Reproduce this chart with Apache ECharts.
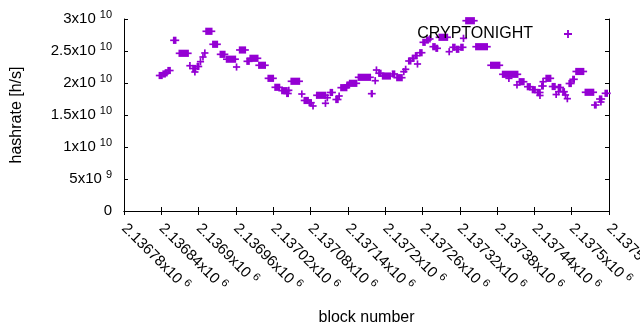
<!DOCTYPE html>
<html>
<head>
<meta charset="utf-8">
<script src="https://cdn.jsdelivr.net/npm/echarts@6/dist/echarts.min.js"></script>
<style>
  html, body { margin: 0; padding: 0; background: #fff; }
  #chart { width: 640px; height: 330px; }
</style>
</head>
<body>
<div id="chart"></div>
<script>
// runs of blocks that share one hashrate value (first block, last block, rate in h/s)
const runFirst = [
  2136837, 2136843, 2136847, 2136851, 2136860, 2136869, 2136886, 2136891, 2136894, 2136898,
  2136903, 2136907, 2136910, 2136912, 2136923, 2136935, 2136945, 2136961, 2136966, 2136978,
  2136983, 2136997, 2137012, 2137023, 2137034, 2137042, 2137045, 2137049, 2137066, 2137070,
  2137078, 2137084, 2137090, 2137104, 2137107, 2137112, 2137121, 2137126, 2137129, 2137139,
  2137143, 2137157, 2137178, 2137184, 2137186, 2137190, 2137196, 2137212, 2137219, 2137230,
  2137233, 2137238, 2137244, 2137249, 2137252, 2137256, 2137261, 2137267, 2137272, 2137277,
  2137282, 2137287, 2137303, 2137309, 2137315, 2137322, 2137326, 2137330, 2137346, 2137370,
  2137389, 2137399, 2137412, 2137416, 2137429, 2137437, 2137445, 2137449, 2137452, 2137454,
  2137459, 2137469, 2137475, 2137479, 2137479, 2137486, 2137490, 2137493, 2137496, 2137502,
  2137507, 2137522, 2137537, 2137545, 2137547, 2137554
];
const runLast = [
  2136841, 2136846, 2136849, 2136854, 2136863, 2136883, 2136886, 2136895, 2136894, 2136900,
  2136903, 2136907, 2136910, 2136921, 2136930, 2136942, 2136959, 2136961, 2136975, 2136981,
  2136995, 2137007, 2137020, 2137030, 2137042, 2137044, 2137045, 2137062, 2137066, 2137076,
  2137081, 2137084, 2137104, 2137104, 2137107, 2137115, 2137124, 2137126, 2137138, 2137141,
  2137154, 2137176, 2137179, 2137184, 2137186, 2137193, 2137208, 2137215, 2137227, 2137230,
  2137233, 2137241, 2137246, 2137251, 2137252, 2137259, 2137264, 2137269, 2137272, 2137280,
  2137284, 2137300, 2137303, 2137312, 2137318, 2137325, 2137326, 2137343, 2137364, 2137384,
  2137413, 2137399, 2137412, 2137423, 2137433, 2137441, 2137449, 2137449, 2137454, 2137454,
  2137466, 2137473, 2137475, 2137482, 2137479, 2137488, 2137490, 2137493, 2137499, 2137504,
  2137519, 2137535, 2137539, 2137548, 2137547, 2137557
];
const runRate = [
  2.117e10, 2.141e10, 2.159e10, 2.195e10, 2.667e10, 2.464e10, 2.270e10, 2.227e10, 2.172e10, 2.258e10,
  2.333e10, 2.406e10, 2.469e10, 2.808e10, 2.605e10, 2.448e10, 2.372e10, 2.250e10, 2.516e10, 2.339e10,
  2.386e10, 2.277e10, 2.073e10, 1.933e10, 1.880e10, 1.836e10, 1.886e10, 2.027e10, 1.828e10, 1.727e10,
  1.692e10, 1.641e10, 1.808e10, 1.683e10, 1.770e10, 1.852e10, 1.742e10, 1.797e10, 1.927e10, 1.969e10,
  1.995e10, 2.089e10, 1.833e10, 2.036e10, 2.203e10, 2.152e10, 2.109e10, 2.141e10, 2.083e10, 2.177e10,
  2.214e10, 2.344e10, 2.386e10, 2.427e10, 2.297e10, 2.473e10, 2.636e10, 2.672e10, 2.688e10, 2.567e10,
  2.542e10, 2.714e10, 2.489e10, 2.558e10, 2.527e10, 2.558e10, 2.698e10, 2.973e10, 2.567e10, 2.277e10,
  2.136e10, 2.073e10, 1.969e10, 2.020e10, 1.942e10, 1.895e10, 1.852e10, 1.805e10, 1.953e10, 2.020e10,
  2.073e10, 1.945e10, 1.820e10, 1.930e10, 1.864e10, 1.864e10, 1.813e10, 1.755e10, 1.992e10, 2.058e10,
  2.180e10, 1.855e10, 1.656e10, 1.750e10, 1.703e10, 1.839e10
];

const seriesName = 'CRYPTONIGHT';
const xMin = 2136780, xMax = 2137560, xStep = 60;
const yMin = 0, yMax = 3e10, yStep = 5e9;

const purple = '#9400d3';
const font = 'Liberation Sans, Arial, sans-serif';

const runs = runFirst.map((b, i) => [b, runLast[i], runRate[i]]);

// "2.13678x10^6" style labels, like gnuplot's enhanced text
function sciLabel(v) {
  if (v === 0) return '{m|0}';
  const e = Math.floor(Math.log10(Math.abs(v)) + 1e-9);
  let m = (v / Math.pow(10, e)).toFixed(6);
  m = m.replace(/0+$/, '').replace(/\.$/, '');
  return '{m|' + m + 'x10}{s|' + e + '}';
}

const labelRich = {
  m: { fontFamily: font, fontSize: 15, color: '#000' },
  s: { fontFamily: font, fontSize: 11, color: '#000', padding: [0, 0, 9, 4] }
};

// one run = several overlapping '+' markers
function renderRun(params, api) {
  const p1 = api.coord([api.value(0), api.value(2)]);
  const p2 = api.coord([api.value(1), api.value(2)]);
  const arm = 3.6, lw = 1.7;
  const style = { fill: purple };
  return {
    type: 'group',
    children: [
      { type: 'rect', shape: { x: p1[0] - lw / 2, y: p1[1] - arm, width: p2[0] - p1[0] + lw, height: arm * 2 }, style: style },
      { type: 'rect', shape: { x: p1[0] - arm, y: p1[1] - lw / 2, width: p2[0] - p1[0] + arm * 2, height: lw }, style: style }
    ]
  };
}

const axisLine = { show: true, lineStyle: { color: '#000', width: 1 } };
const axisTick = { show: true, inside: true, length: 4, lineStyle: { color: '#000' } };

const chart = echarts.init(document.getElementById('chart'));
chart.setOption({
  animation: false,
  backgroundColor: '#fff',
  grid: { left: 124, right: 31, top: 19, bottom: 119, outerBoundsMode: 'none', containLabel: false },
  legend: {
    data: [seriesName],
    right: 68, top: 26, padding: 0,
    align: 'right',
    icon: 'path://M2.7,0h1.6v2.7h2.7v1.6h-2.7v2.7h-1.6v-2.7h-2.7v-1.6h2.7z',
    itemWidth: 8, itemHeight: 8,
    itemStyle: { color: purple },
    textStyle: { fontFamily: font, fontSize: 16, color: '#000', padding: [0, 26, 0, 0] }
  },
  xAxis: [
    {
      type: 'value', min: xMin, max: xMax, interval: xStep,
      axisLine: axisLine, axisTick: axisTick, splitLine: { show: false },
      axisLabel: { rotate: -45, margin: 15, formatter: sciLabel, rich: labelRich, hideOverlap: false },
      name: 'block number', nameLocation: 'middle', nameGap: 99,
      nameTextStyle: { fontFamily: font, fontSize: 16, color: '#000' }
    },
    {
      type: 'value', position: 'top', min: xMin, max: xMax, interval: xStep,
      axisLine: axisLine, axisTick: axisTick, splitLine: { show: false },
      axisLabel: { show: false }
    }
  ],
  yAxis: [
    {
      type: 'value', min: yMin, max: yMax, interval: yStep,
      axisLine: axisLine, axisTick: axisTick, splitLine: { show: false },
      axisLabel: { margin: 12, formatter: sciLabel, rich: labelRich },
      name: 'hashrate [h/s]', nameLocation: 'middle', nameGap: 99,
      nameTextStyle: { fontFamily: font, fontSize: 16, color: '#000' }
    },
    {
      type: 'value', position: 'right', min: yMin, max: yMax, interval: yStep,
      axisLine: axisLine, axisTick: axisTick, splitLine: { show: false },
      axisLabel: { show: false }
    }
  ],
  series: [
    {
      name: seriesName,
      type: 'custom',
      itemStyle: { color: purple },
      renderItem: renderRun,
      encode: { x: [0, 1], y: 2 },
      data: runs
    }
  ]
});
</script>
</body>
</html>
